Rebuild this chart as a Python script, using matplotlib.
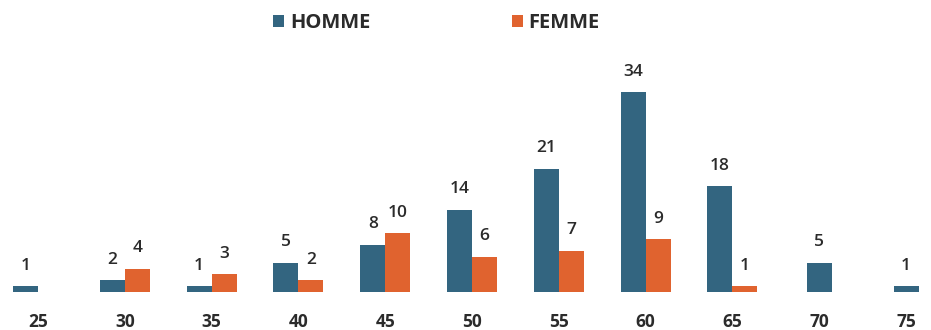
import numpy as np
import matplotlib
matplotlib.use("Agg")
import matplotlib.pyplot as plt

ages = ["25", "30", "35", "40", "45", "50", "55", "60", "65", "70", "75"]
homme = [1, 2, 1, 5, 8, 14, 21, 34, 18, 5, 1]
femme = [0, 4, 3, 2, 10, 6, 7, 9, 1, np.nan, np.nan]

c_h = "#336580"
c_f = "#e0632f"
txt = "#2b2b2b"

plt.rcParams['font.family'] = ['Open Sans', 'DejaVu Sans']

fig = plt.figure(figsize=(9.31, 3.30), dpi=100)
ax = fig.add_axes([0, 38/330, 1, (292-57)/330])

x = np.arange(len(ages))
sp = 86.8
w = 25/sp
h_arr = np.array(homme, dtype=float)
f_arr = np.array(femme, dtype=float)
has_f = ~np.isnan(f_arr)
xh = np.where(has_f, x - w/2, x)
xf = x + w/2

bh = ax.bar(xh, h_arr, width=w, color=c_h, label="HOMME")
bf = ax.bar(xf[has_f], f_arr[has_f], width=w, color=c_f, label="FEMME")

for xi, v in zip(xh, h_arr):
    if v > 0:
        ax.annotate(f"{int(v)}", (xi, v), xytext=(0, 9), textcoords="offset points",
                    ha="center", va="bottom", fontsize=12.5, color=txt, fontweight="semibold")
for xi, v in zip(xf[has_f], f_arr[has_f]):
    if v > 0:
        ax.annotate(f"{int(v)}", (xi, v), xytext=(0, 9), textcoords="offset points",
                    ha="center", va="bottom", fontsize=12.5, color=txt, fontweight="semibold")

ax.set_xlim(-38/sp, (931-38)/sp)
ax.set_ylim(0, 40)
ax.set_xticks(x)
ax.set_xticklabels(ages, fontsize=12.5, fontweight="bold", color=txt)
ax.tick_params(axis="x", length=0, pad=15)
ax.set_yticks([])
for s in ax.spines.values():
    s.set_visible(False)

leg = fig.legend(handles=[bh, bf], labels=["HOMME", "FEMME"], loc="center",
                 bbox_to_anchor=(436.5/931, 1 - 23/330), ncol=2, frameon=False,
                 handlelength=0.55, handleheight=0.55, handletextpad=0.3,
                 columnspacing=7.0, prop={"size": 14.5, "weight": "bold"})
for t in leg.get_texts():
    t.set_color(txt)

fig.savefig("out.png", dpi=100, facecolor="white")
